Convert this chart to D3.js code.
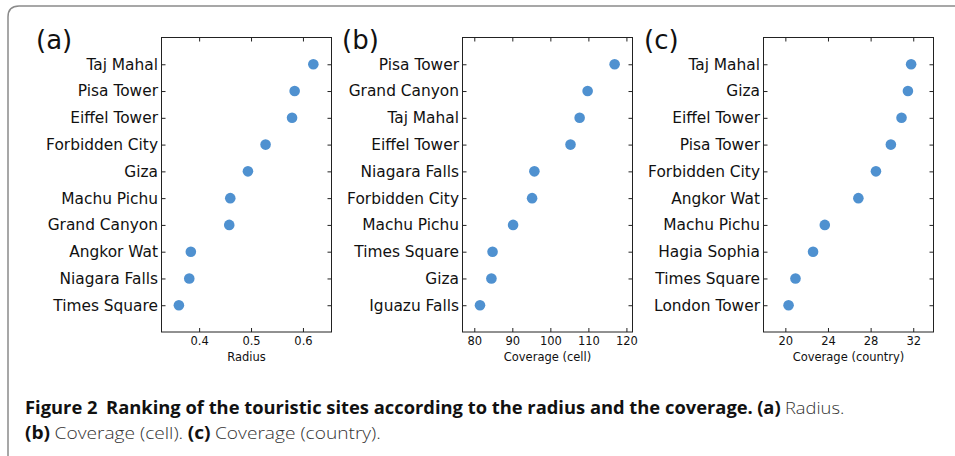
<!DOCTYPE html>
<html>
<head>
<meta charset="utf-8">
<script src="https://cdn.jsdelivr.net/npm/d3@7"></script>
<style>
  body { margin: 0; background: #fff; }
  svg { display: block; }
</style>
</head>
<body>
<div id="chart"></div>
<script>
// panel (a) - radius
const sitesRadius = ['Taj Mahal', 'Pisa Tower', 'Eiffel Tower', 'Forbidden City', 'Giza',
  'Machu Pichu', 'Grand Canyon', 'Angkor Wat', 'Niagara Falls', 'Times Square'];
const radiusValues = [0.620, 0.584, 0.579, 0.528, 0.494, 0.460, 0.458, 0.384, 0.381, 0.361];
const radiusTicks = [0.4, 0.5, 0.6];

// panel (b) - coverage (cell)
const sitesCell = ['Pisa Tower', 'Grand Canyon', 'Taj Mahal', 'Eiffel Tower', 'Niagara Falls',
  'Forbidden City', 'Machu Pichu', 'Times Square', 'Giza', 'Iguazu Falls'];
const cellValues = [116.9, 109.8, 107.7, 105.3, 95.8, 95.2, 90.2, 84.8, 84.5, 81.5];
const cellTicks = [80, 90, 100, 110, 120];

// panel (c) - coverage (country)
const sitesCountry = ['Taj Mahal', 'Giza', 'Eiffel Tower', 'Pisa Tower', 'Forbidden City',
  'Angkor Wat', 'Machu Pichu', 'Hagia Sophia', 'Times Square', 'London Tower'];
const countryValues = [31.8, 31.5, 30.9, 29.9, 28.5, 26.85, 23.7, 22.6, 20.95, 20.3];
const countryTicks = [20, 24, 28, 32];

const W = 955, H = 456;
const plotTop = 37.5, plotBottom = 332, boxW = 170;
const dotColor = '#4f91d0';

const panels = [
  {tag: '(a)', tagX: 36, left: 161.5, names: sitesRadius, values: radiusValues,
   ticks: radiusTicks, domain: [0.3275, 0.655], fmt: d3.format('.1f'), label: 'Radius'},
  {tag: '(b)', tagX: 342, left: 462.5, names: sitesCell, values: cellValues,
   ticks: cellTicks, domain: [76.9, 121.6], fmt: d3.format('d'), label: 'Coverage (cell)'},
  {tag: '(c)', tagX: 644, left: 763.5, names: sitesCountry, values: countryValues,
   ticks: countryTicks, domain: [17.95, 33.9], fmt: d3.format('d'), label: 'Coverage (country)'}
];

const svg = d3.select('#chart').append('svg')
  .attr('width', W)
  .attr('height', H);

svg.append('rect').attr('width', W).attr('height', H).attr('fill', '#fff');

// frame round the figure
svg.append('path')
  .attr('d', 'M8,456 L8,17 Q8,6 19,6 L955,6')
  .attr('fill', 'none')
  .attr('stroke', '#8a8a8a')
  .attr('stroke-width', 1.5);

const chartFont = '"DejaVu Sans", sans-serif';

panels.forEach(function(p){
  const g = svg.append('g').style('font-family', chartFont);

  const x = d3.scaleLinear().domain(p.domain).range([p.left, p.left + boxW]);
  const y = d3.scalePoint().domain(p.names).range([plotTop, plotBottom]).padding(1);

  // ticks, all pointing inwards
  const bx = g.append('g').attr('transform', `translate(0,${plotBottom})`)
    .call(d3.axisBottom(x).tickValues(p.ticks).tickFormat(p.fmt)
      .tickSizeInner(-4).tickSizeOuter(0).tickPadding(5));
  const tx = g.append('g').attr('transform', `translate(0,${plotTop})`)
    .call(d3.axisTop(x).tickValues(p.ticks).tickFormat('')
      .tickSizeInner(-4).tickSizeOuter(0));
  const ly = g.append('g').attr('transform', `translate(${p.left},0)`)
    .call(d3.axisLeft(y).tickSizeInner(-4).tickSizeOuter(0).tickPadding(3.5));
  const ry = g.append('g').attr('transform', `translate(${p.left + boxW},0)`)
    .call(d3.axisRight(y).tickFormat('').tickSizeInner(-4).tickSizeOuter(0));

  [bx, tx, ly, ry].forEach(function(a){
    a.select('.domain').remove();
    a.selectAll('line').attr('stroke', '#222');
    a.attr('font-family', null);
  });
  bx.selectAll('text').style('font-size', '11.5px').attr('fill', '#111');
  ly.selectAll('text').style('font-size', '15.4px').attr('fill', '#111');

  g.append('rect')
    .attr('x', p.left).attr('y', plotTop)
    .attr('width', boxW).attr('height', plotBottom - plotTop)
    .attr('fill', 'none')
    .attr('stroke', '#222')
    .attr('stroke-width', 1);

  g.selectAll('circle')
    .data(p.values)
    .enter()
    .append('circle')
    .attr('cx', function(d){ return x(d); })
    .attr('cy', function(d, i){ return y(p.names[i]); })
    .attr('r', 5.3)
    .style('fill', dotColor);

  g.append('text')
    .attr('x', p.left + boxW / 2)
    .attr('y', 361)
    .attr('text-anchor', 'middle')
    .style('font-size', '11.5px')
    .attr('fill', '#111')
    .text(p.label);

  g.append('text')
    .attr('x', p.tagX)
    .attr('y', 49)
    .style('font-size', '26px')
    .attr('fill', '#111')
    .text(p.tag);
});

// caption
const capFont = '"Open Sans", sans-serif';
const captionLines = [
  {y: 414, width: 820, parts: [
    ['Figure 2', 700, 0], ['Ranking of the touristic sites according to the radius and the coverage.', 700, 8],
    ['(a)', 700, 4], ['Radius.', 300, 4]]},
  {y: 439, width: 356, parts: [
    ['(b)', 700, 0], ['Coverage (cell).', 300, 4], ['(c)', 700, 4], ['Coverage (country).', 300, 4]]}
];

captionLines.forEach(function(line){
  const t = svg.append('text')
    .attr('transform', `translate(25,${line.y})`)
    .style('font-family', capFont)
    .style('font-size', '17px');
  line.parts.forEach(function(part){
    t.append('tspan')
      .attr('dx', part[2])
      .style('font-weight', part[1])
      .attr('fill', part[1] === 700 ? '#111' : '#333')
      .text(part[0]);
  });
  const w = t.node().getBBox().width;
  t.attr('transform', `translate(25,${line.y}) scale(${line.width / w},1)`);
});
</script>
</body>
</html>
